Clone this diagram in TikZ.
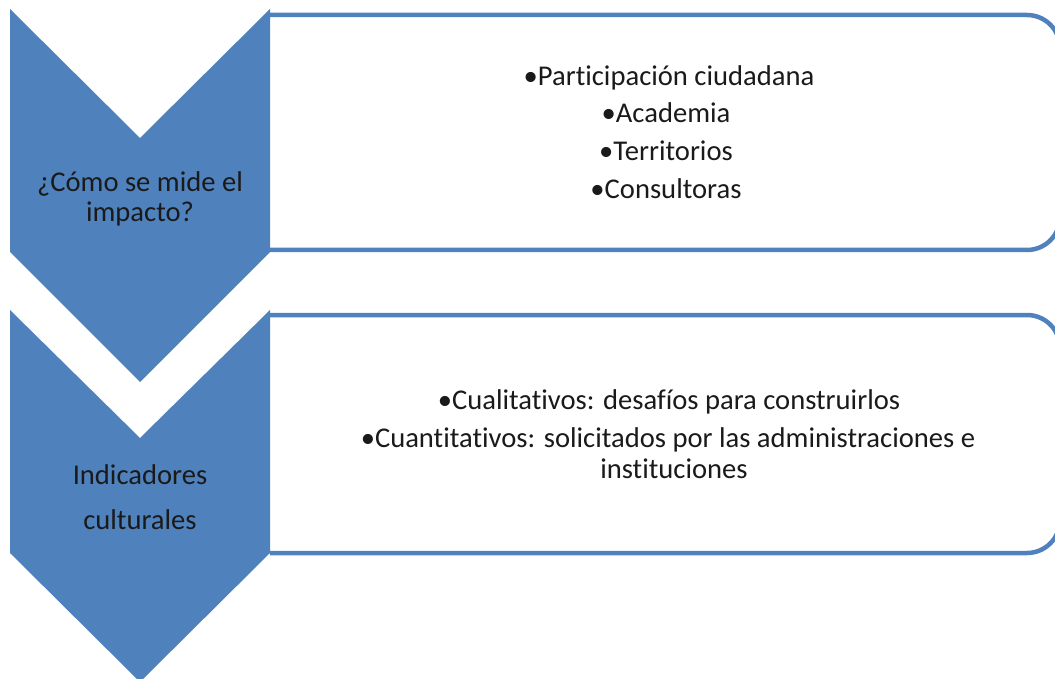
\documentclass[tikz,border=0pt]{standalone}
\usepackage{fontspec}
\setmainfont{Carlito}[Ligatures={NoCommon}]
\definecolor{officeblue}{HTML}{4F81BD}
\definecolor{txt}{HTML}{1A1A1A}
\tikzset{
  chev/.style={fill=officeblue, draw=none},
  panel/.style={draw=officeblue, line width=4.5pt, rounded corners=33pt, fill=white},
  ln/.style={anchor=base, inner sep=0pt, text=txt, font=\fontsize{28.6}{31}\selectfont}
}
\begin{document}
\begin{tikzpicture}[x=1pt,y=-1pt]
\useasboundingbox (0,0) rectangle (1055,679);
\clip (0,0) rectangle (1055,679);
% panels
\path[panel] (270,15) -- (1060,15) -- (1060,250) -- (270,250);
\path[panel] (270,315) -- (1060,315) -- (1060,553) -- (270,553);
% chevrons
\path[chev] (10,9) -- (140,138) -- (270,9) -- (270,252) -- (140,382) -- (10,252) -- cycle;
\path[chev] (10,310) -- (140,438) -- (270,310) -- (270,553) -- (140,682) -- (10,553) -- cycle;
% chevron texts
\node[ln] (c1a) at (140,192) {¿Cómo se mide el};
\node[ln] (c1b) at (140,222) {impacto?};
\node[ln] (c2a) at (140,484) {Indicadores};
\node[ln] (c2b) at (140,529) {culturales};
% box 1 texts
\node[ln] (b1a) at (669,86) {•Participación ciudadana};
\node[ln] (b1b) at (666,123) {•Academia};
\node[ln] (b1c) at (666,161) {•Territorios};
\node[ln] (b1d) at (666,199) {•Consultoras};
% box 2 texts
\node[ln] (b2a) at (669,409) {•Cualitativos: desafíos para construirlos};
\node[ln] (b2b) at (668,447) {•Cuantitativos: solicitados por las administraciones e};
\node[ln] (b2c) at (674,478) {instituciones};
\end{tikzpicture}
\end{document}
